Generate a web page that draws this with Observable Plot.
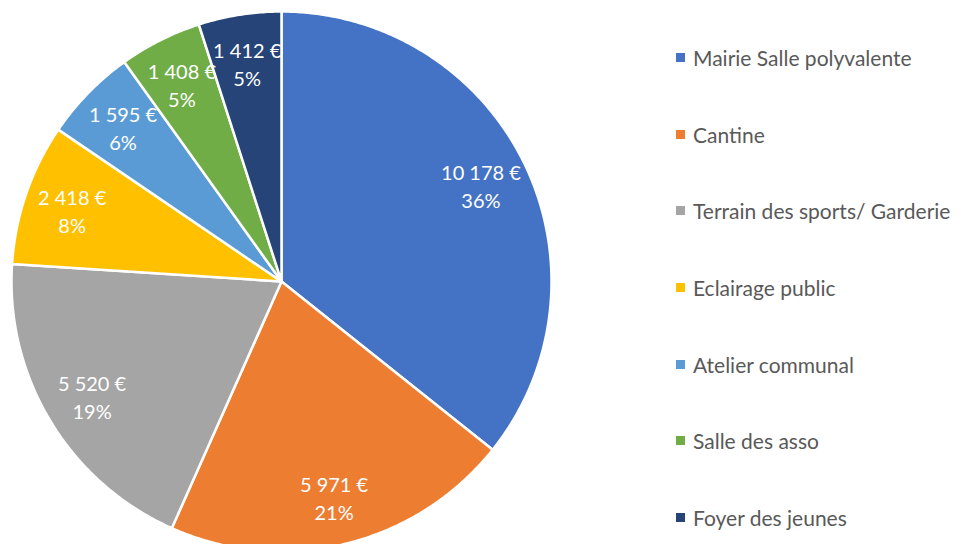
<!DOCTYPE html>
<html>
<head>
<meta charset="utf-8">
<script src="https://cdn.jsdelivr.net/npm/d3@7"></script>
<script src="https://cdn.jsdelivr.net/npm/@observablehq/plot@0.6"></script>
<style>
  html, body { margin: 0; padding: 0; background: #fff; }
  #wrap { position: relative; width: 967px; height: 544px; overflow: hidden; }
  #legend { position: absolute; left: 676px; top: 19px; font-family: Lato, "Open Sans", sans-serif; font-size: 21px; color: #595959; }
  .row { height: 76.7px; display: flex; align-items: center; white-space: nowrap; }
  .sw { width: 9px; height: 9px; margin-right: 8px; flex: none; }
</style>
</head>
<body>
<div id="wrap"><div id="chart"></div><div id="legend"></div></div>
<script>
const categories = ["Mairie Salle polyvalente", "Cantine", "Terrain des sports/ Garderie", "Eclairage public", "Atelier communal", "Salle des asso", "Foyer des jeunes"];
const values = [10178, 5971, 5520, 2418, 1595, 1408, 1412];
const colors = ["#4472C4", "#ED7D31", "#A5A5A5", "#FFC000", "#5B9BD5", "#70AD47", "#264478"];

const W = 967, H = 544, cx = 281, cy = 281, R = 270;
const total = d3.sum(values);
const fmtNum = d3.formatLocale({thousands: "\u00a0", grouping: [3], decimal: ",", currency: ["", ""]}).format(",d");

// build wedge polygons in unit coordinates (angle clockwise from top)
const pts = [];
const labels = [];
let acc = 0;
categories.forEach((name, i) => {
  const a0 = acc / total * 2 * Math.PI;
  acc += values[i];
  const a1 = acc / total * 2 * Math.PI;
  pts.push({name, x: 0, y: 0});
  const n = Math.max(2, Math.ceil((a1 - a0) / (Math.PI / 360)));
  for (let k = 0; k <= n; k++) {
    const a = a0 + (a1 - a0) * k / n;
    pts.push({name, x: Math.sin(a), y: Math.cos(a)});
  }
  pts.push({name, x: 0, y: 0});
  const am = (a0 + a1) / 2;
  const lr = 0.82;
  labels.push({name, x: lr * Math.sin(am), y: lr * Math.cos(am),
    text: `${fmtNum(values[i])} €\n${Math.round(values[i] / total * 100)}%`});
});

const chart = Plot.plot({
  width: W, height: H,
  margin: 0,
  x: {domain: [-cx / R, (W - cx) / R], range: [0, W], axis: null},
  y: {domain: [(cy - H) / R, cy / R], range: [H, 0], axis: null},
  color: {domain: categories, range: colors},
  style: {fontFamily: "Lato, 'Open Sans', sans-serif", background: "white"},
  marks: [
    Plot.line(pts, {x: "x", y: "y", z: "name", fill: "name", stroke: "white", strokeWidth: 2.5, strokeLinejoin: "round", curve: "linear"}),
    Plot.text(labels, {x: "x", y: "y", text: "text", fill: "white", fontSize: 20, lineHeight: 1.4})
  ]
});
document.getElementById("chart").appendChild(chart);

const legend = document.getElementById("legend");
categories.forEach((name, i) => {
  const row = document.createElement("div");
  row.className = "row";
  const sw = document.createElement("span");
  sw.className = "sw";
  sw.style.background = colors[i];
  const t = document.createElement("span");
  t.textContent = name;
  row.appendChild(sw); row.appendChild(t);
  legend.appendChild(row);
});
</script>
</body>
</html>
